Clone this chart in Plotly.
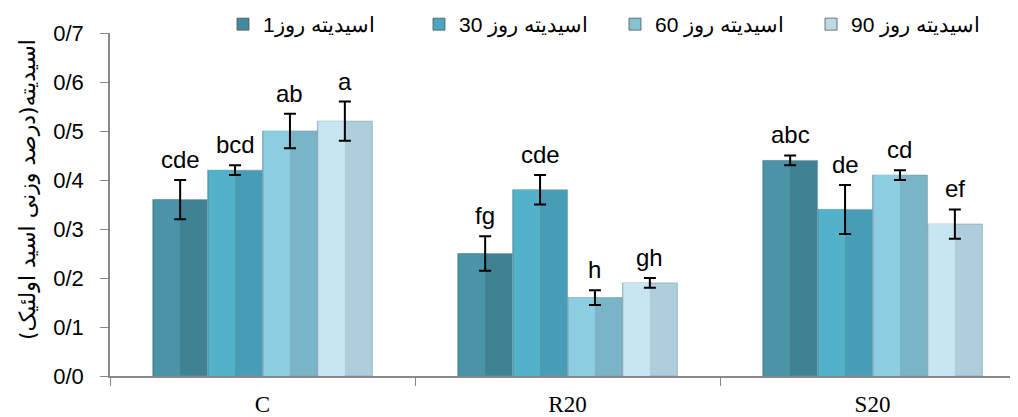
import plotly.graph_objects as go

categories = ["C", "R20", "S20"]
series_names = ["اسیدیته روز1", "اسیدیته روز 30", "اسیدیته روز 60", "اسیدیته روز 90"]
day1 = [0.36, 0.25, 0.44]
day30 = [0.42, 0.38, 0.34]
day60 = [0.50, 0.16, 0.41]
day90 = [0.52, 0.19, 0.31]
err1 = [0.04, 0.035, 0.01]
err30 = [0.01, 0.03, 0.05]
err60 = [0.035, 0.015, 0.01]
err90 = [0.04, 0.01, 0.03]
letters1 = ["cde", "fg", "abc"]
letters30 = ["bcd", "cde", "de"]
letters60 = ["ab", "h", "cd"]
letters90 = ["a", "gh", "ef"]
y_ticks = [0, 0.1, 0.2, 0.3, 0.4, 0.5, 0.6, 0.7]
y_ticktext = ["0/0", "0/1", "0/2", "0/3", "0/4", "0/5", "0/6", "0/7"]
y_title = "اسیدیته(درصد وزنی اسید اولئیک)"

values = [day1, day30, day60, day90]
errors = [err1, err30, err60, err90]
letters = [letters1, letters30, letters60, letters90]
dark_cols = ["#3e8294", "#479db5", "#79b4c7", "#afcedb"]
light_cols = ["#4b94a7", "#53b1ca", "#8dcde2", "#c7e6f2"]
legend_cols = ["#428a9c", "#4ca6bf", "#84c2d6", "#bcdbe7"]

W = 0.18
start = -0.36

fig = go.Figure()
for i in range(4):
    off = start + i * W
    fig.add_trace(go.Bar(
        x=categories, y=values[i], name=series_names[i], offset=off, width=W,
        marker=dict(color=dark_cols[i], line=dict(color="#7a9aa5", width=0.6)),
        showlegend=False, hoverinfo="skip"))
    fig.add_trace(go.Bar(
        x=categories, y=values[i], offset=off + 0.004, width=W / 2 - 0.004,
        marker=dict(color=light_cols[i], line=dict(width=0)),
        showlegend=False, hoverinfo="skip"))
for i in range(4):
    off = start + i * W
    fig.add_trace(go.Bar(
        x=categories, y=values[i], name=series_names[i], offset=off, width=W,
        marker=dict(color="rgba(0,0,0,0)", line=dict(width=0)),
        error_y=dict(type="data", array=errors[i], color="black", thickness=2, width=6),
        showlegend=False))
    # legend proxy
    fig.add_trace(go.Bar(
        x=[None], y=[None], name=series_names[i],
        marker=dict(color=legend_cols[i], line=dict(color="#555", width=0.8))))

for i in range(4):
    for j in range(3):
        fig.add_annotation(
            x=j + start + i * W + W / 2, y=values[i][j] + errors[i][j] + 0.042,
            text=letters[i][j], showarrow=False, yanchor="middle",
            font=dict(family="Liberation Sans", size=24, color="black"))

# y-axis title as rotated annotation
fig.add_annotation(
    xref="paper", yref="paper", x=-83 / 908, y=186 / 343,
    text=y_title, textangle=-90, showarrow=False,
    xanchor="center", yanchor="middle",
    font=dict(family="DejaVu Sans", size=22, color="black"))

fig.update_layout(
    width=1018, height=417,
    margin=dict(l=102, r=8, t=25, b=49, autoexpand=False),
    paper_bgcolor="white", plot_bgcolor="white",
    barmode="overlay",
    legend=dict(orientation="h", xref="container", yref="paper",
                x=215 / 1018, y=1 + 29 / 343, xanchor="left", yanchor="top",
                entrywidth=151, entrywidthmode="pixels", traceorder="normal",
                font=dict(family="Liberation Sans", size=21, color="black"),
                bgcolor="rgba(0,0,0,0)"),
    xaxis=dict(type="category", range=[-0.5, 2.477], tickson="boundaries",
               ticks="outside", ticklen=8, tickcolor="#888", showline=True,
               linecolor="#888", linewidth=2, showgrid=False, automargin=False,
               ticklabelstandoff=6,
               tickfont=dict(family="Liberation Serif", size=23, color="black")),
    yaxis=dict(range=[0, 0.7], tickvals=y_ticks, ticktext=y_ticktext,
               ticks="outside", ticklen=8, tickcolor="#888", showline=True,
               linecolor="#888", linewidth=1.5, showgrid=False, zeroline=False,
               automargin=False, ticklabelstandoff=12,
               tickfont=dict(family="Liberation Sans", size=22, color="black")),
)

fig.write_html("out.html")
